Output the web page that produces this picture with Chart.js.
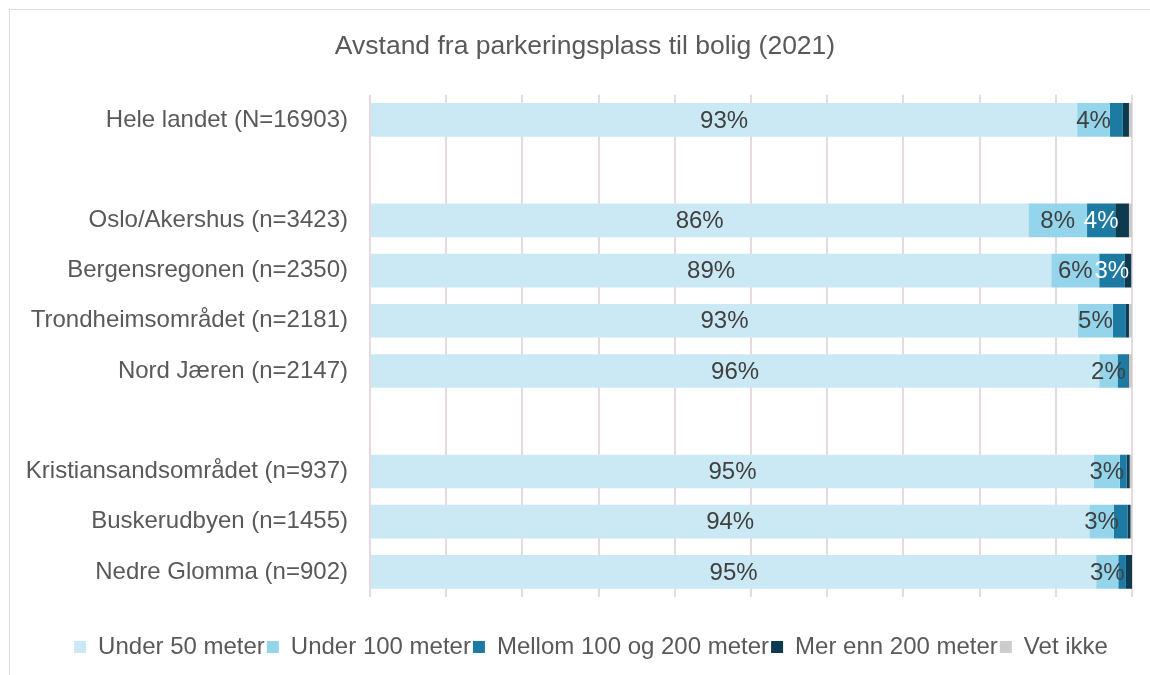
<!DOCTYPE html>
<html lang="no">
<head>
<meta charset="UTF-8">
<title>Avstand fra parkeringsplass til bolig (2021)</title>
<script src="https://cdn.jsdelivr.net/npm/chart.js"></script>
<style>
  html, body { margin: 0; padding: 0; background: #fff; }
  #frame { position: absolute; left: 9px; top: 9px; width: 1160px; height: 690px; border: 1px solid #e4d8de; box-sizing: border-box; }
  #wrap { position: absolute; left: 0; top: 0; width: 1150px; height: 675px; }
</style>
</head>
<body>
<div id="frame"></div>
<div id="wrap"><canvas id="myChart"></canvas></div>
<script>
  // rows, with empty ones as gaps between the groups
  const categories = [
    'Hele landet (N=16903)', '',
    'Oslo/Akershus (n=3423)', 'Bergensregonen (n=2350)', 'Trondheimsområdet (n=2181)', 'Nord Jæren (n=2147)', '',
    'Kristiansandsområdet (n=937)', 'Buskerudbyen (n=1455)', 'Nedre Glomma (n=902)'
  ];
  const seriesNames = ['Under 50 meter', 'Under 100 meter', 'Mellom 100 og 200 meter', 'Mer enn 200 meter', 'Vet ikke'];
  const under50   = [92.8, null, 86.4, 89.4, 92.9, 95.7, null, 95.0, 94.4, 95.3];
  const under100  = [4.3,  null, 7.7,  6.3,  4.6,  2.4,  null, 3.4,  3.2,  2.9];
  const mellom    = [1.7,  null, 3.7,  3.3,  1.7,  1.4,  null, 0.9,  1.8,  1.0];
  const merEnn200 = [0.8,  null, 1.8,  0.9,  0.4,  0.1,  null, 0.4,  0.4,  0.8];
  const vetIkke   = [0.4,  null, 0.4,  0.1,  0.4,  0.4,  null, 0.3,  0.2,  0.0];

  const colors = ['#cbe9f5', '#94d5ec', '#1d7aa2', '#0e3a50', '#cccccc'];
  const labelColors = ['#404040', '#404040', '#ffffff', '#ffffff', '#404040'];

  const FONT = "'Liberation Sans', Arial, sans-serif";

  // percent labels in the middle of the bigger segments
  const segmentLabels = {
    id: 'segmentLabels',
    afterDatasetsDraw(chart) {
      const ctx = chart.ctx;
      ctx.save();
      ctx.font = '24px ' + FONT;
      ctx.textAlign = 'center';
      ctx.textBaseline = 'middle';
      chart.data.datasets.forEach((ds, i) => {
        chart.getDatasetMeta(i).data.forEach((bar, j) => {
          const v = ds.data[j];
          if (v == null || v < 2) return;
          ctx.fillStyle = labelColors[i];
          ctx.fillText(Math.round(v) + '%', (bar.x + bar.base) / 2, bar.y + 1);
        });
      });
      ctx.restore();
    }
  };

  // title and legend sit a little right of the canvas centre in the original
  const nudge = {
    id: 'nudge',
    afterLayout(chart) {
      chart.titleBlock.left += 28;
      chart.legend.left += 20;
      chart.legend.right += 20;
    }
  };

  const allSeries = [under50, under100, mellom, merEnn200, vetIkke];

  const ctx = document.getElementById('myChart').getContext('2d');
  const myChart = new Chart(ctx, {
    type: 'bar',
    data: {
      labels: categories,
      datasets: allSeries.map((d, i) => ({
        label: seriesNames[i],
        data: d,
        backgroundColor: colors[i],
        borderWidth: 0,
        categoryPercentage: 1,
        barPercentage: 0.67
      }))
    },
    options: {
      indexAxis: 'y',
      responsive: true,
      maintainAspectRatio: false,
      animation: false,
      layout: { padding: { left: 10, right: 18, top: 0, bottom: 6 } },
      scales: {
        x: {
          stacked: true,
          min: 0,
          max: 100,
          ticks: { display: false, stepSize: 10 },
          grid: { color: '#e6d9df', lineWidth: 2, drawTicks: false },
          border: { display: false },
          afterFit(scale) { scale.height = 36; }
        },
        y: {
          stacked: true,
          grid: { display: false },
          border: { display: false },
          ticks: { color: '#595959', font: { family: FONT, size: 24 }, padding: 14 },
          afterFit(scale) { scale.width = 360; }
        }
      },
      plugins: {
        title: {
          display: true,
          text: 'Avstand fra parkeringsplass til bolig (2021)',
          color: '#595959',
          font: { family: FONT, size: 26.5, weight: 'normal' },
          padding: { top: 31, bottom: 32 }
        },
        legend: {
          position: 'bottom',
          labels: {
            color: '#595959',
            font: { family: FONT, size: 24 },
            boxWidth: 12,
            boxHeight: 12,
            padding: 2
          }
        },
        tooltip: { enabled: false }
      }
    },
    plugins: [segmentLabels, nudge]
  });
</script>
</body>
</html>
